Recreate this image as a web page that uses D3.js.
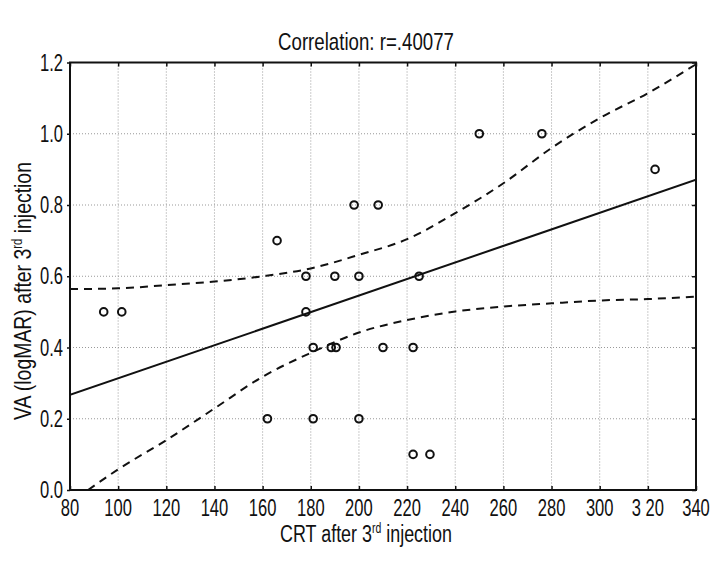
<!DOCTYPE html>
<html>
<head>
<meta charset="utf-8">
<script src="https://cdn.jsdelivr.net/npm/d3@7"></script>
<style>
  html, body { margin: 0; padding: 0; background: #fff; }
  text { font-family: "Liberation Sans", Arial, sans-serif; fill: #111; }
</style>
</head>
<body>
<svg id="chart" width="720" height="576"></svg>
<script>
// ---- data ----
const crt = [94, 101.5, 162, 181, 200, 166, 198, 208, 178, 190, 200, 178, 181, 188.5, 190.5, 210, 222.5, 225, 222.5, 229.5, 250, 276, 323];
const va  = [0.5, 0.5, 0.2, 0.2, 0.2, 0.7, 0.8, 0.8, 0.6, 0.6, 0.6, 0.5, 0.4, 0.4, 0.4, 0.4, 0.4, 0.6, 0.1, 0.1, 1.0, 1.0, 0.9];
const fitX = [80, 340];
const fitY = [0.267, 0.871];
const upperX = [80, 100, 120, 140, 160, 180, 200, 220, 240, 260, 280, 300, 320, 340];
const upperY = [0.564, 0.566, 0.575, 0.585, 0.600, 0.622, 0.660, 0.704, 0.777, 0.861, 0.960, 1.044, 1.114, 1.195];
const lowerX = [87.5, 100, 120, 140, 160, 180, 200, 220, 240, 260, 280, 300, 320, 340];
const lowerY = [0.0, 0.058, 0.14, 0.229, 0.318, 0.385, 0.442, 0.477, 0.501, 0.515, 0.524, 0.532, 0.536, 0.543];
const xTicks = [80, 100, 120, 140, 160, 180, 200, 220, 240, 260, 280, 300, 320, 340];
const xTickLabels = ["80", "100", "120", "140", "160", "180", "200", "220", "240", "260", "280", "300", "3 20", "340"];
const yTicks = [0.0, 0.2, 0.4, 0.6, 0.8, 1.0, 1.2];
const yTickLabels = ["0.0", "0.2", "0.4", "0.6", "0.8", "1.0", "1.2"];
const titleText = "Correlation: r=.40077";

// ---- layout ----
const L = 70, R = 696, T = 62.5, B = 490;
const SQ = 0.72; // horizontal condensing for tick labels
const svg = d3.select("#chart");
const x = d3.scaleLinear().domain([80, 340]).range([L, R]);
const y = d3.scaleLinear().domain([0, 1.2]).range([B, T]);

svg.append("defs").append("clipPath").attr("id", "clip")
  .append("rect").attr("x", L).attr("y", T).attr("width", R - L).attr("height", B - T);

// grid
const grid = svg.append("g");
grid.selectAll("line.vx").data(xTicks.slice(1, -1)).join("line")
  .attr("x1", d => x(d)).attr("x2", d => x(d)).attr("y1", T).attr("y2", B)
  .attr("stroke", "#999").attr("stroke-width", 1).attr("stroke-dasharray", "1,2");
grid.selectAll("line.hy").data(yTicks.slice(1, -1)).join("line")
  .attr("y1", d => y(d)).attr("y2", d => y(d)).attr("x1", L).attr("x2", R)
  .attr("stroke", "#999").attr("stroke-width", 1).attr("stroke-dasharray", "1,2");

// axes (tick marks only; labels drawn below)
const xAxisB = d3.axisBottom(x).tickValues(xTicks).tickFormat("").tickSizeInner(-4).tickSizeOuter(0);
const xAxisT = d3.axisTop(x).tickValues(xTicks).tickFormat("").tickSizeInner(-4).tickSizeOuter(0);
const yAxisL = d3.axisLeft(y).tickValues(yTicks).tickFormat("").tickSizeInner(3).tickSizeOuter(0);
const yAxisR = d3.axisRight(y).tickValues(yTicks).tickFormat("").tickSizeInner(-4).tickSizeOuter(0);
function styleAxis(g) {
  g.select(".domain").remove();
  g.selectAll(".tick line").attr("stroke", "#111").attr("stroke-width", 1.5);
}
svg.append("g").attr("transform", `translate(0,${B})`).call(xAxisB).call(styleAxis);
svg.append("g").attr("transform", `translate(0,${T})`).call(xAxisT).call(styleAxis);
svg.append("g").attr("transform", `translate(${L},0)`).call(yAxisL).call(styleAxis);
svg.append("g").attr("transform", `translate(${R},0)`).call(yAxisR).call(styleAxis);

// tick labels
svg.append("g").selectAll("text").data(xTicks).join("text")
  .attr("transform", d => `translate(${x(d)},516) scale(${SQ},1)`)
  .attr("text-anchor", "middle").attr("font-size", 23)
  .text((d, i) => xTickLabels[i]);
svg.append("g").selectAll("text").data(yTicks).join("text")
  .attr("transform", d => `translate(63,${y(d) + 8}) scale(${SQ},1)`)
  .attr("text-anchor", "end").attr("font-size", 23)
  .text((d, i) => yTickLabels[i]);

// frame
svg.append("rect").attr("x", L).attr("y", T).attr("width", R - L).attr("height", B - T)
  .attr("fill", "none").attr("stroke", "#111").attr("stroke-width", 2);

// lines
const plot = svg.append("g").attr("clip-path", "url(#clip)");
const lineGen = d3.line().x(d => x(d[0])).y(d => y(d[1])).curve(d3.curveMonotoneX);
plot.append("path").datum(fitX.map((v, i) => [v, fitY[i]])).attr("d", lineGen)
  .attr("fill", "none").attr("stroke", "#111").attr("stroke-width", 2);
plot.append("path").datum(upperX.map((v, i) => [v, upperY[i]])).attr("d", lineGen)
  .attr("fill", "none").attr("stroke", "#111").attr("stroke-width", 2).attr("stroke-dasharray", "8,6");
plot.append("path").datum(lowerX.map((v, i) => [v, lowerY[i]])).attr("d", lineGen)
  .attr("fill", "none").attr("stroke", "#111").attr("stroke-width", 2).attr("stroke-dasharray", "8,6");

// points
svg.append("g").selectAll("circle").data(crt.map((v, i) => [v, va[i]])).join("circle")
  .attr("cx", d => x(d[0])).attr("cy", d => y(d[1])).attr("r", 3.8)
  .attr("fill", "none").attr("stroke", "#111").attr("stroke-width", 2);

// condensed text helper: scale horizontally to the target width
function squeeze(sel, cx, cy, width, rotate) {
  const w = sel.node().getComputedTextLength();
  const s = width / w;
  sel.attr("transform", `translate(${cx},${cy})${rotate ? " rotate(-90)" : ""} scale(${s},1)`);
}

// title
const tt = svg.append("text").attr("text-anchor", "middle").attr("font-size", 24).text(titleText);
squeeze(tt, 366, 50, 176, false);

// x label
const xl = svg.append("text").attr("text-anchor", "middle").attr("font-size", 24);
xl.append("tspan").text("CRT after 3");
xl.append("tspan").attr("dy", -9).attr("font-size", 14).text("rd");
xl.append("tspan").attr("dy", 9).text(" injection");
squeeze(xl, 366, 542, 172, false);

// y label
const yl = svg.append("text").attr("text-anchor", "middle").attr("font-size", 24);
yl.append("tspan").text("VA (logMAR) after 3");
yl.append("tspan").attr("dy", -9).attr("font-size", 14).text("rd");
yl.append("tspan").attr("dy", 9).text(" injection");
squeeze(yl, 31, 291, 258, true);
</script>
</body>
</html>
